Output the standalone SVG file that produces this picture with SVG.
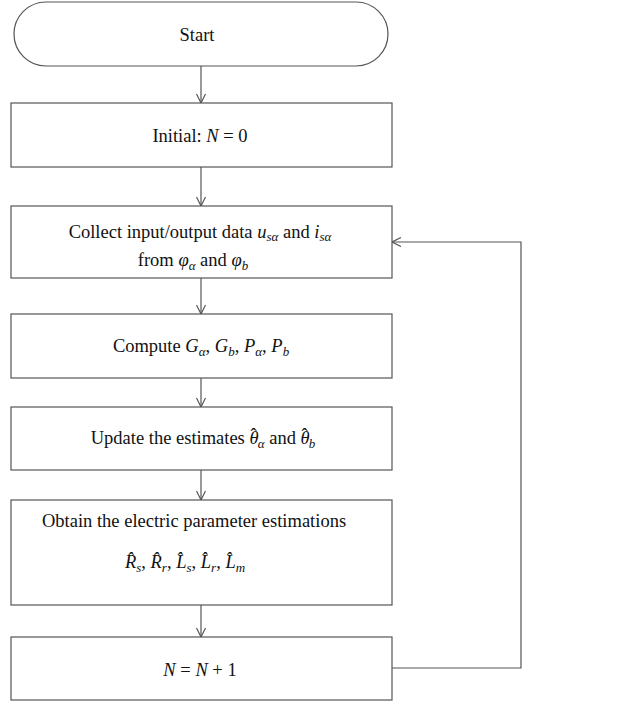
<svg xmlns="http://www.w3.org/2000/svg" width="619" height="701" viewBox="0 0 619 701">
<style>
.box{fill:#fff;stroke:#555;stroke-width:1.2}
.ln{fill:none;stroke:#555;stroke-width:1.2}
text{font-family:"Liberation Serif","Times New Roman",serif;font-size:18.5px;fill:#111}
.i{font-style:italic}
.s{font-size:13px;font-style:italic}
.h{font-style:normal}
</style>
<defs>
<marker id="ah" viewBox="0 0 10 10" refX="10" refY="5" markerWidth="10" markerHeight="10" markerUnits="userSpaceOnUse" orient="auto">
<path d="M1,0.5 L10,5 L1,9.5" fill="none" stroke="#555" stroke-width="1.2"/>
</marker>
</defs>
<rect width="619" height="701" fill="#fff"/>
<g id="connectors">
<line class="ln" x1="201" y1="66" x2="201" y2="103" marker-end="url(#ah)"/>
<line class="ln" x1="201" y1="167" x2="201" y2="206" marker-end="url(#ah)"/>
<line class="ln" x1="201" y1="278" x2="201" y2="314" marker-end="url(#ah)"/>
<line class="ln" x1="201" y1="378" x2="201" y2="407" marker-end="url(#ah)"/>
<line class="ln" x1="201" y1="470" x2="201" y2="500" marker-end="url(#ah)"/>
<line class="ln" x1="201" y1="605" x2="201" y2="637" marker-end="url(#ah)"/>
<polyline class="ln" points="392,668 521,668 521,242 392,242" marker-end="url(#ah)"/>
</g>
<g id="start">
<rect class="box" x="14" y="2" width="374" height="64" rx="32" ry="32"/>
<text x="197" y="41" text-anchor="middle">Start</text>
</g>
<g id="initial">
<rect class="box" x="11" y="103" width="381" height="64"/>
<text x="200" y="142" text-anchor="middle">Initial: <tspan class="i">N</tspan> = 0</text>
</g>
<g id="collect">
<rect class="box" x="11" y="206" width="381" height="72"/>
<text x="200" y="238" text-anchor="middle">Collect input/output data <tspan class="i">u</tspan><tspan class="s" dy="3">sα</tspan><tspan dy="-3"> and </tspan><tspan class="i">i</tspan><tspan class="s" dy="3">sα</tspan></text>
<text x="193" y="266" text-anchor="middle">from <tspan class="i">φ</tspan><tspan class="s" dy="4">α</tspan><tspan dy="-4"> and </tspan><tspan class="i">φ</tspan><tspan class="s" dy="4">b</tspan></text>
</g>
<g id="compute">
<rect class="box" x="11" y="314" width="381" height="64"/>
<text x="201" y="352" text-anchor="middle">Compute <tspan class="i">G</tspan><tspan class="s" dy="4">α</tspan><tspan dy="-4">, </tspan><tspan class="i">G</tspan><tspan class="s" dy="4">b</tspan><tspan dy="-4">, </tspan><tspan class="i">P</tspan><tspan class="s" dy="4">α</tspan><tspan dy="-4">, </tspan><tspan class="i">P</tspan><tspan class="s" dy="4">b</tspan></text>
</g>
<g id="update">
<rect class="box" x="11" y="407" width="381" height="63"/>
<text x="203" y="444" text-anchor="middle">Update the estimates <tspan class="i">θ</tspan><tspan class="h" dx="-8" dy="-3">ˆ</tspan><tspan class="s" dx="1" dy="7">α</tspan><tspan dy="-4"> and </tspan><tspan class="i">θ</tspan><tspan class="h" dx="-8" dy="-3">ˆ</tspan><tspan class="s" dx="1" dy="7">b</tspan></text>
</g>
<g id="obtain">
<rect class="box" x="11" y="500" width="381" height="105"/>
<text x="42" y="527">Obtain the electric parameter estimations</text>
<text x="185" y="568" text-anchor="middle"><tspan class="i">R̂</tspan><tspan class="s" dy="4">s</tspan><tspan dy="-4">, </tspan><tspan class="i">R̂</tspan><tspan class="s" dy="4">r</tspan><tspan dy="-4">, </tspan><tspan class="i">L̂</tspan><tspan class="s" dy="4">s</tspan><tspan dy="-4">, </tspan><tspan class="i">L̂</tspan><tspan class="s" dy="4">r</tspan><tspan dy="-4">, </tspan><tspan class="i">L̂</tspan><tspan class="s" dy="4">m</tspan></text>
</g>
<g id="increment">
<rect class="box" x="11" y="637" width="381" height="63"/>
<text x="200" y="676" text-anchor="middle"><tspan class="i">N</tspan> = <tspan class="i">N</tspan> + 1</text>
</g>
</svg>
